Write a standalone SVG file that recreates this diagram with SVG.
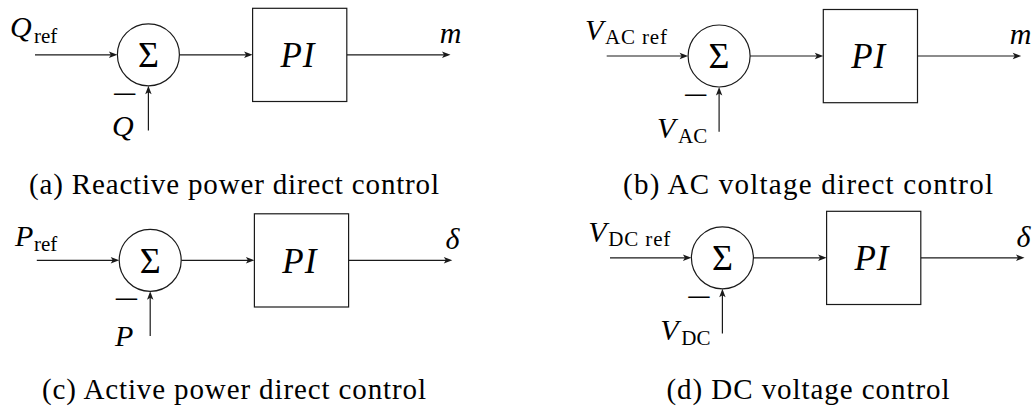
<svg xmlns="http://www.w3.org/2000/svg" width="1035" height="406" viewBox="0 0 1035 406" font-family="Liberation Serif, DejaVu Serif, serif">
<style>
.ln{stroke:#1a1a1a;stroke-width:1.2;fill:none}
.arr{marker-end:url(#ah)}
.nd{fill:#fff;stroke:#1a1a1a;stroke-width:1.2}
.mi{font-style:italic;font-size:30px}
.sub{font-size:21px}
.cap{font-size:29px}
.big{font-size:36px}
.pi{font-style:italic;font-size:35px}
.neg{font-size:30px}
</style>
<defs>
<marker id="ah" viewBox="-9 -4 10 8" refX="-3" refY="0" markerWidth="10" markerHeight="8" markerUnits="userSpaceOnUse" orient="auto">
<path d="M0,0 L-8.5,-3.2 L-6.5,0 L-8.5,3.2 z" fill="#1a1a1a"/>
</marker>
</defs>
<rect width="1035" height="406" fill="#fff"/>

<g id="connectors">
<g transform="translate(0,0)">
<path class="ln arr" d="M35,54.8 H114.4"/>
<path class="ln arr" d="M179.4,54.8 H249.6"/>
<path class="ln arr" d="M346.8,54.8 H447.5"/>
<path class="ln arr" d="M148.4,130.5 V88.8"/>
</g>
<g transform="translate(570.7,1.2)">
<path class="ln arr" d="M36,54.8 H114.4"/>
<path class="ln arr" d="M179.4,54.8 H249.6"/>
<path class="ln arr" d="M346.8,54.8 H447.5"/>
<path class="ln arr" d="M148.4,130.5 V88.8"/>
</g>
<g transform="translate(1.8,205.5)">
<path class="ln arr" d="M35,54.8 H114.4"/>
<path class="ln arr" d="M179.4,54.8 H249.6"/>
<path class="ln arr" d="M346.8,54.8 H447.5"/>
<path class="ln arr" d="M148.4,130.5 V88.8"/>
</g>
<g transform="translate(574,203)">
<path class="ln arr" d="M36,54.8 H114.4"/>
<path class="ln arr" d="M179.4,54.8 H249.6"/>
<path class="ln arr" d="M346.8,54.8 H447.5"/>
<path class="ln arr" d="M148.4,130.5 V88.8"/>
</g>
</g>

<!-- Panel (a) -->
<g id="panel-a">
<g id="a-sum"><circle class="nd" cx="148.4" cy="54.8" r="31"/><text class="big" x="148.4" y="67" text-anchor="middle">Σ</text></g>
<g id="a-pi"><rect class="nd" x="252.6" y="8.3" width="94.2" height="93.2"/><text class="pi" x="298" y="67" text-anchor="middle" letter-spacing="1">PI</text></g>
<g id="a-in"><text class="mi" x="10" y="37">Q</text><text class="sub" x="34" y="43">ref</text></g>
<g id="a-out"><text class="mi" x="450.5" y="43" text-anchor="middle">m</text></g>
<g id="a-fb"><text class="mi" x="112" y="136">Q</text><text class="neg" x="112" y="104" textLength="26" lengthAdjust="spacingAndGlyphs">−</text></g>
</g>
<text class="cap" x="234" y="194" text-anchor="middle" textLength="410" lengthAdjust="spacing">(a) Reactive power direct control</text>

<!-- Panel (b) -->
<g id="panel-b" transform="translate(570.7,1.2)">
<g id="b-sum"><circle class="nd" cx="148.4" cy="54.8" r="31"/><text class="big" x="148.4" y="67" text-anchor="middle">Σ</text></g>
<g id="b-pi"><rect class="nd" x="252.6" y="8.3" width="94.2" height="93.2"/><text class="pi" x="298" y="67" text-anchor="middle" letter-spacing="1">PI</text></g>
<g id="b-in"><text class="mi" x="14.3" y="39">V</text><text class="sub" x="34.3" y="43.3" textLength="62" lengthAdjust="spacing">AC ref</text></g>
<g id="b-out"><text class="mi" x="449.8" y="43" text-anchor="middle">m</text></g>
<g id="b-fb"><text class="mi" x="86.3" y="137">V</text><text class="sub" x="107.3" y="142.3">AC</text><text class="neg" x="112.3" y="104" textLength="26" lengthAdjust="spacingAndGlyphs">−</text></g>
</g>
<text class="cap" x="808" y="194" text-anchor="middle" textLength="370" lengthAdjust="spacing">(b) AC voltage direct control</text>

<!-- Panel (c) -->
<g id="panel-c" transform="translate(1.8,205.5)">
<g id="c-sum"><circle class="nd" cx="148.4" cy="54.8" r="31"/><text class="big" x="148.4" y="67" text-anchor="middle">Σ</text></g>
<g id="c-pi"><rect class="nd" x="252.6" y="8.3" width="94.2" height="93.2"/><text class="pi" x="298" y="67" text-anchor="middle" letter-spacing="1">PI</text></g>
<g id="c-in"><text class="mi" x="13.2" y="40">P</text><text class="sub" x="32.2" y="45">ref</text></g>
<g id="c-out"><text class="mi" x="450.7" y="43.5" text-anchor="middle">δ</text></g>
<g id="c-fb"><text class="mi" x="113.2" y="140">P</text><text class="neg" x="112" y="103" textLength="26" lengthAdjust="spacingAndGlyphs">−</text></g>
</g>
<text class="cap" x="234" y="399" text-anchor="middle" textLength="384" lengthAdjust="spacing">(c) Active power direct control</text>

<!-- Panel (d) -->
<g id="panel-d" transform="translate(574,203)">
<g id="d-sum"><circle class="nd" cx="148.4" cy="54.8" r="31"/><text class="big" x="148.4" y="67" text-anchor="middle">Σ</text></g>
<g id="d-pi"><rect class="nd" x="252.6" y="8.3" width="94.2" height="93.2"/><text class="pi" x="298" y="67" text-anchor="middle" letter-spacing="1">PI</text></g>
<g id="d-in"><text class="mi" x="14.3" y="39">V</text><text class="sub" x="34.3" y="43.3" textLength="62" lengthAdjust="spacing">DC ref</text></g>
<g id="d-out"><text class="mi" x="449.5" y="43.5" text-anchor="middle">δ</text></g>
<g id="d-fb"><text class="mi" x="86.3" y="137">V</text><text class="sub" x="107.3" y="142.3">DC</text><text class="neg" x="112.3" y="104" textLength="26" lengthAdjust="spacingAndGlyphs">−</text></g>
</g>
<text class="cap" x="808" y="399" text-anchor="middle" textLength="283" lengthAdjust="spacing">(d) DC voltage control</text>
</svg>
